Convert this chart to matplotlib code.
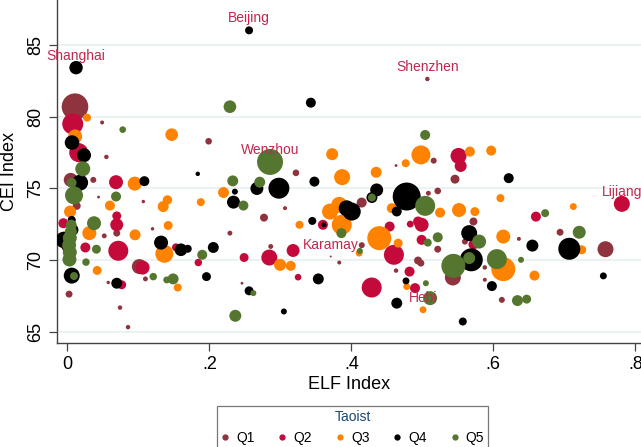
import matplotlib
matplotlib.use('Agg')
import matplotlib.pyplot as plt
from matplotlib.lines import Line2D

plt.rcParams['font.family'] = ['Liberation Sans', 'DejaVu Sans']

# ELF index, CEI index and city weight for each Taoist quintile
q1_elf = [0.0108, 0.049, 0.199, 0.055, 0.322, 0.0048, 0.0366, 0.044, 0.107, 0.277,
          0.3066, 0.0696, 0.052, 0.120, 0.229, 0.246, 0.2865, 0.1014, 0.110, 0.0742,
          0.0855, 0.0024, 0.0132, 0.0576, 0.516, 0.463, 0.4146, 0.5085, 0.5217, 0.546,
          0.572, 0.4147, 0.5217, 0.494, 0.498, 0.463, 0.543, 0.588, 0.588, 0.612,
          0.636, 0.694, 0.758, 0.560, 0.5071, 0.371, 0.383]
q1_cei = [80.70, 79.60, 78.29, 77.20, 76.09, 75.60, 75.60, 74.40, 74.09, 72.97,
          73.63, 71.89, 71.70, 72.19, 71.89, 68.40, 70.96, 69.56, 68.70, 66.70,
          65.34, 67.64, 73.79, 68.45, 76.94, 76.60, 74.02, 74.67, 74.83, 75.65,
          72.70, 71.05, 70.77, 69.98, 69.80, 69.28, 68.80, 69.50, 68.64, 67.24,
          71.49, 71.95, 70.77, 71.30, 82.63, 70.26, 69.84]
q1_w = [177, 4, 11, 5, 11, 49, 9, 2, 3, 16,
        4, 12, 6, 3, 6, 2, 6, 56, 6, 5,
        5, 12, 16, 3, 9, 2, 25, 6, 11, 20,
        16, 9, 12, 16, 12, 5, 64, 5, 4, 9,
        4, 12, 64, 9, 5, 1, 4]

q2_elf = [0.0076, 0.016, 0.0686, -0.0056, 0.0696, 0.0696, 0.0718, 0.0254, 0.153, 0.1845,
          0.249, 0.2845, 0.318, 0.325, 0.106, 0.0766, 0.551, 0.554, 0.781, 0.660,
          0.360, 0.454, 0.483, 0.499, 0.494, 0.499, 0.460, 0.482, 0.4897, 0.4287,
          0.572]
q2_cei = [79.50, 77.50, 75.44, 72.58, 73.09, 72.47, 70.66, 70.89, 70.90, 69.84,
          70.19, 70.19, 70.68, 68.82, 69.49, 68.29, 77.27, 76.57, 73.93, 73.04,
          72.47, 72.35, 72.52, 72.47, 72.70, 71.42, 70.38, 69.21, 68.06, 68.10,
          71.10]
q2_w = [110, 90, 49, 25, 20, 42, 100, 25, 16, 14,
        20, 64, 42, 11, 49, 20, 64, 36, 64, 25,
        25, 25, 12, 49, 25, 25, 100, 25, 25, 100,
        25]

q3_elf = [0.0277, 0.147, 0.011, 0.0949, 0.220, 0.060, 0.141, 0.135, 0.188, 0.327,
          0.0038, 0.031, 0.042, 0.0954, 0.142, 0.1366, -0.003, 0.2996, 0.3146, 0.1555,
          0.373, 0.498, 0.4766, 0.387, 0.435, 0.525, 0.383, 0.370, 0.457, 0.567,
          0.597, 0.610, 0.7127, 0.5517, 0.574, 0.3865, 0.4394, 0.466, 0.411, 0.478,
          0.501, 0.614, 0.658, 0.614, 0.7245]
q3_cei = [79.94, 78.75, 78.63, 75.34, 74.72, 73.81, 74.20, 73.74, 74.05, 72.47,
          73.39, 71.89, 69.29, 71.77, 72.42, 70.45, 71.40, 69.68, 69.61, 68.10,
          77.39, 77.34, 76.76, 75.79, 76.13, 73.32, 73.86, 73.39, 73.63, 77.57,
          77.64, 74.33, 73.74, 73.50, 73.39, 72.47, 71.54, 71.19, 70.50, 68.17,
          66.55, 69.38, 68.93, 71.65, 70.73]
q3_w = [16, 40, 49, 49, 30, 25, 22, 30, 16, 16,
        36, 49, 20, 30, 20, 81, 81, 36, 25, 16,
        36, 90, 16, 64, 30, 25, 64, 64, 25, 25,
        25, 16, 12, 49, 20, 100, 144, 20, 12, 12,
        12, 144, 25, 49, 20]

q4_elf = [0.256, 0.0123, 0.343, 0.0066, 0.0235, 0.1837, 0.018, 0.1085, 0.267, 0.298,
          0.348, 0.236, 0.234, 0.345, 0.132, 0.160, 0.1696, 0.2056, 0.0696, 0.196,
          0.256, 0.305, 0.0062, 0.0062, 0.0072, -0.0056, 0.001, 0.4357, 0.429, 0.478,
          0.4006, 0.3935, 0.464, 0.6217, 0.3614, 0.3535, 0.477, 0.464, 0.557, 0.566,
          0.569, 0.598, 0.655, 0.707, 0.755]
q4_cei = [86.02, 83.42, 80.98, 78.20, 77.32, 76.02, 75.41, 75.51, 75.00, 75.02,
          75.48, 74.78, 74.05, 72.74, 71.23, 70.73, 70.80, 70.89, 68.40, 68.86,
          67.87, 66.43, 68.93, 72.81, 72.12, 71.42, 70.90, 74.90, 74.37, 74.44,
          73.39, 73.62, 73.40, 75.72, 72.47, 68.70, 68.56, 67.01, 65.73, 71.89,
          70.03, 68.20, 71.02, 70.80, 68.91]
q4_w = [16, 45, 25, 53, 49, 5, 64, 25, 42, 110,
        25, 9, 42, 16, 49, 40, 16, 30, 30, 20,
        20, 9, 64, 16, 36, 64, 36, 42, 30, 196,
        81, 64, 25, 25, 6, 30, 12, 30, 16, 64,
        132, 25, 36, 121, 12]

q5_elf = [0.078, 0.229, 0.0217, 0.2855, 0.006, 0.233, 0.271, 0.0094, 0.0686, 0.248,
          0.0376, 0.041, 0.0263, 0.190, 0.121, 0.149, 0.140, 0.262, 0.2366, 0.0094,
          0.0055, 0.0050, 0.0035, 0.0025, 0.0035, 0.0030, 0.504, 0.429, 0.504, 0.673,
          0.412, 0.386, 0.5076, 0.5217, 0.511, 0.505, 0.580, 0.566, 0.5437, 0.605,
          0.639, 0.634, 0.647, 0.721]
q5_cei = [79.10, 80.70, 76.37, 76.85, 75.40, 75.53, 75.44, 74.52, 74.44, 73.81,
          72.58, 70.77, 69.87, 70.38, 68.86, 68.70, 68.63, 67.71, 66.13, 68.90,
          72.45, 72.00, 71.55, 71.05, 70.55, 70.05, 78.73, 74.37, 73.79, 73.28,
          70.65, 71.89, 71.23, 71.60, 67.36, 68.40, 71.30, 70.15, 69.61, 70.08,
          70.03, 67.19, 67.29, 71.95]
q5_w = [11, 40, 56, 169, 25, 30, 30, 81, 25, 25,
        49, 20, 14, 25, 14, 30, 12, 9, 36, 16,
        30, 36, 49, 49, 49, 49, 25, 16, 100, 16,
        9, 25, 16, 25, 49, 9, 49, 36, 144, 100,
        9, 30, 20, 42]

# labelled cities
city_names = ['Beijing', 'Shanghai', 'Shenzhen', 'Wenzhou', 'Lijiang', 'Karamay', 'Hebi']
city_elf = [0.256, 0.0123, 0.5071, 0.2855, 0.781, 0.371, 0.501]
city_cei = [86.02, 83.42, 82.63, 76.85, 73.93, 70.26, 66.55]

groups = [
    ('Q1', q1_elf, q1_cei, q1_w, '#8f343e'),
    ('Q2', q2_elf, q2_cei, q2_w, '#c30a3b'),
    ('Q3', q3_elf, q3_cei, q3_w, '#ff8200'),
    ('Q4', q4_elf, q4_cei, q4_w, '#000000'),
    ('Q5', q5_elf, q5_cei, q5_w, '#55762f'),
]

fig = plt.figure(figsize=(6.41, 4.47), dpi=100)
ax = fig.add_axes([57 / 641, 104 / 447, 1 - 57 / 641, 343 / 447])

# bubble area proportional to weight
scale = 2.07
for name, xs, ys, ws, col in groups:
    ax.scatter(xs, ys, s=[w * scale for w in ws], color=col, linewidths=0, zorder=3)

for name, x, y in zip(city_names, city_elf, city_cei):
    ax.annotate(name, (x, y), xytext=(0, 8.6), textcoords='offset points',
                ha='center', va='center', fontsize=10, color='#c0284f', zorder=4)

ax.set_xlim(-0.01455, 0.808)
ax.set_ylim(64.234, 88.134)
ax.set_xticks([0, 0.2, 0.4, 0.6, 0.8])
ax.set_xticklabels(['0', '.2', '.4', '.6', '.8'])
ax.set_yticks([65, 70, 75, 80, 85])
ax.yaxis.grid(True, color='#e8f0f2', lw=1.2)
ax.set_axisbelow(True)

for side in ['top', 'right']:
    ax.spines[side].set_visible(False)
for side in ['left', 'bottom']:
    ax.spines[side].set_color('#444444')
    ax.spines[side].set_linewidth(1.0)

ax.tick_params(direction='out', length=5.5, width=0.9, color='#444444',
               labelsize=13, pad=4)
for lab in ax.get_yticklabels():
    lab.set_rotation(90)
    lab.set_va('center')

ax.set_xlabel('ELF Index', fontsize=13, labelpad=2)
ax.set_ylabel('CEI Index', fontsize=13, labelpad=6)

handles = [Line2D([], [], marker='o', ls='', color=g[4], markersize=3.5) for g in groups]
leg = ax.legend(handles, [g[0] for g in groups], ncol=5, title='Taoist',
                loc='upper center', bbox_to_anchor=(352.5 / 641, 1 - 399 / 447),
                bbox_transform=fig.transFigure, fontsize=10, title_fontsize=10,
                frameon=True, fancybox=False, edgecolor='#555555',
                handlelength=0.6, handletextpad=0.5, columnspacing=1.7,
                borderpad=0.3)
leg.get_frame().set_linewidth(0.9)
leg.get_title().set_color('#1a476f')

fig.savefig('out.png', dpi=100)
plt.close()
